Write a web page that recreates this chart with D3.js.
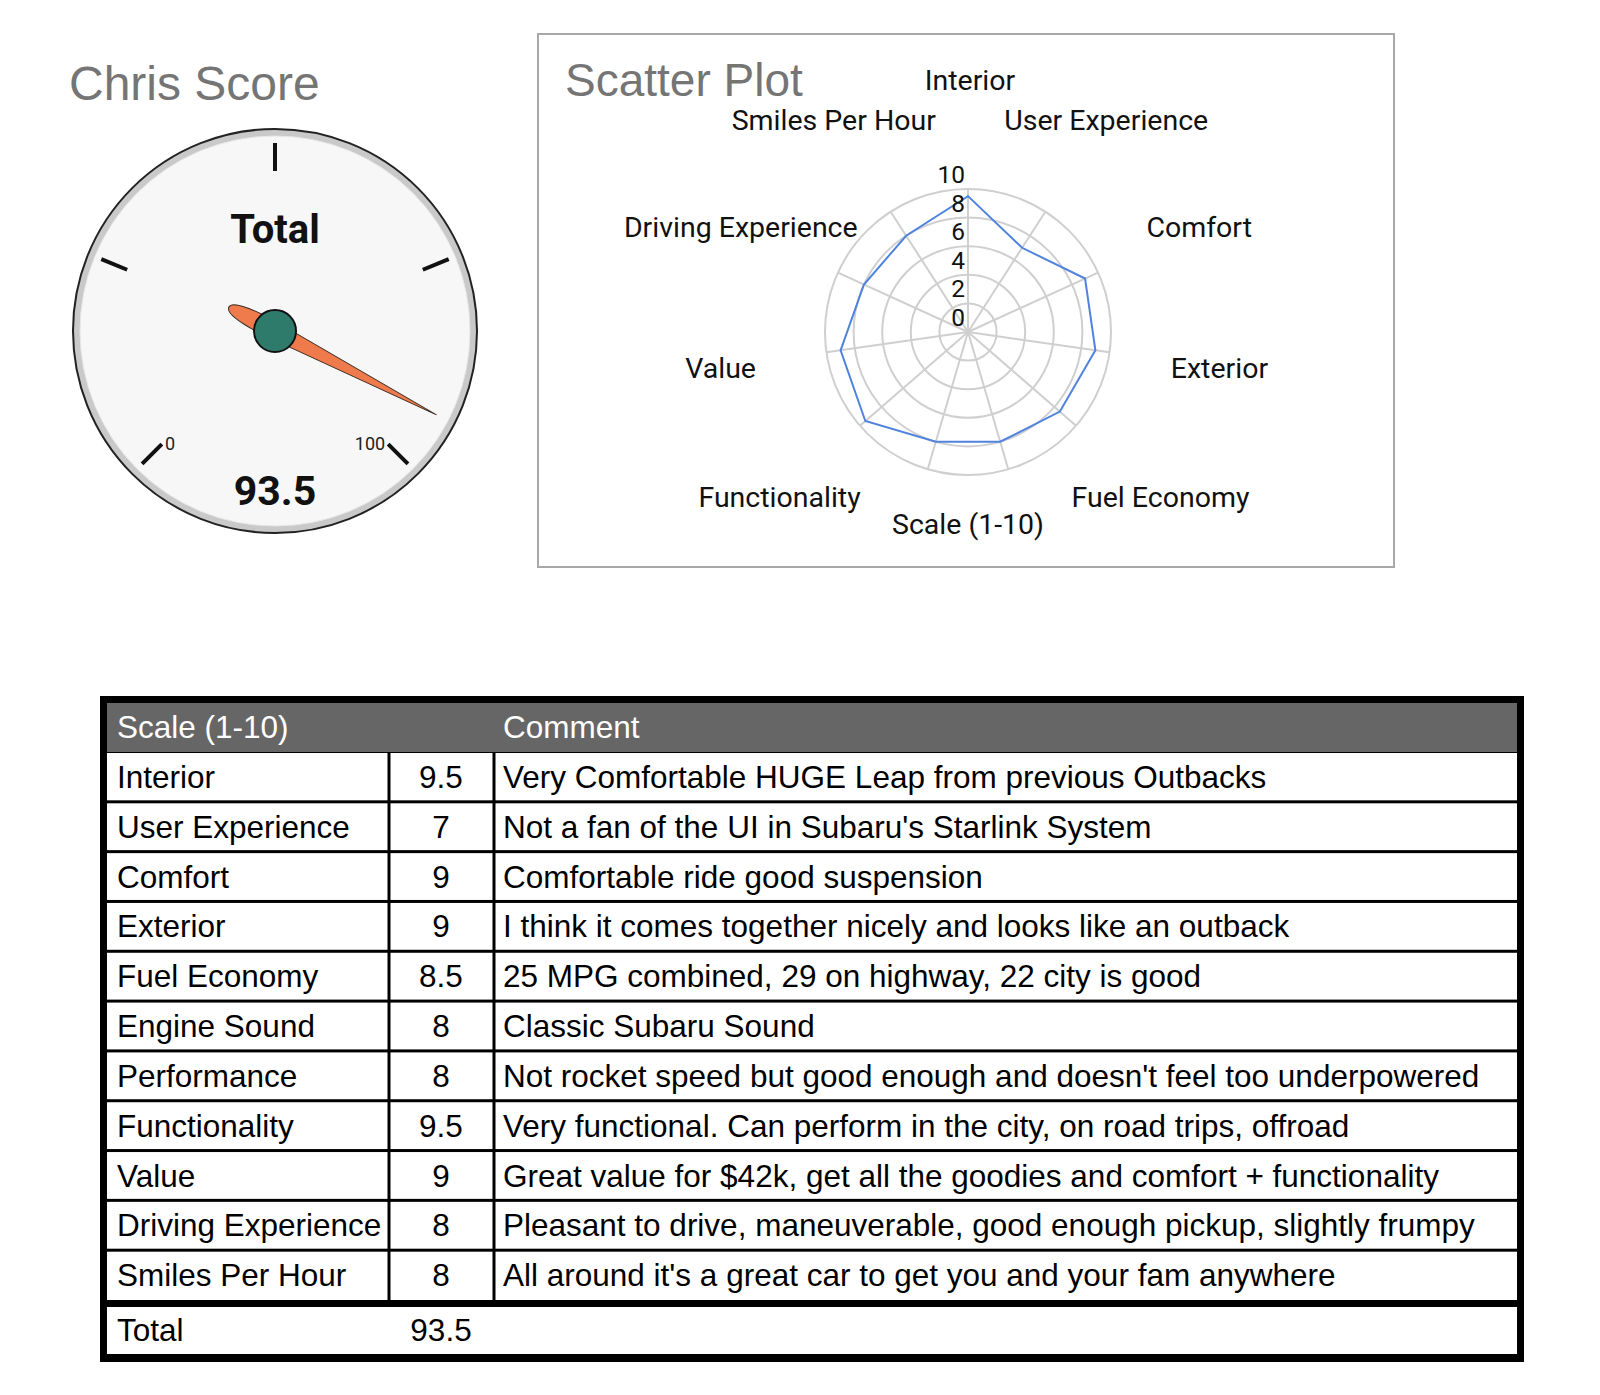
<!DOCTYPE html>
<html>
<head>
<meta charset="utf-8">
<script src="https://cdn.jsdelivr.net/npm/d3@7"></script>
<style>
  body { margin: 0; background: #fff; }
  svg { display: block; }
</style>
</head>
<body>
<div id="chart"></div>
<script>
// data for the review
const categories = ["Interior", "User Experience", "Comfort", "Exterior", "Fuel Economy",
    "Engine Sound", "Performance", "Functionality", "Value", "Driving Experience", "Smiles Per Hour"];
const scores = [9.5, 7, 9, 9, 8.5, 8, 8, 9.5, 9, 8, 8];
const comments = [
    "Very Comfortable HUGE Leap from previous Outbacks",
    "Not a fan of the UI in Subaru's Starlink System",
    "Comfortable ride good suspension",
    "I think it comes together nicely and looks like an outback",
    "25 MPG combined, 29 on highway, 22 city is good",
    "Classic Subaru Sound",
    "Not rocket speed but good enough and doesn't feel too underpowered",
    "Very functional. Can perform in the city, on road trips, offroad",
    "Great value for $42k, get all the goodies and comfort + functionality",
    "Pleasant to drive, maneuverable, good enough pickup, slightly frumpy",
    "All around it's a great car to get you and your fam anywhere"
];
const totalScore = 93.5;
const gaugeTicks = [0, 25, 50, 75, 100];
const gaugeTickLabels = [0, 100];
const radarTicks = [0, 2, 4, 6, 8, 10];
const radarRings = [2, 4, 6, 8, 10];

const W = 1600, H = 1395;
const svg = d3.select("#chart").append("svg")
    .attr("width", W).attr("height", H)
    .style("font-family", "Roboto, sans-serif");
svg.append("rect").attr("width", W).attr("height", H).attr("fill", "#fff");

// ---------- GAUGE ----------
svg.append("text").attr("x", 69).attr("y", 100)
    .style("font-family", "'Liberation Sans', Arial, sans-serif")
    .attr("font-size", 48).attr("fill", "#757575").text("Chris Score");

const gx = 275, gy = 331, gR = 202;
const gauge = svg.append("g").attr("transform", `translate(${gx},${gy})`);
gauge.append("circle").attr("r", gR).attr("fill", "#c9c9c9").attr("stroke", "#222").attr("stroke-width", 2);
gauge.append("circle").attr("r", gR - 7).attr("fill", "#f7f7f7").attr("stroke", "#e6e6e6").attr("stroke-width", 1);

// uhel ve stupnich, 0 = nahoru, po smeru hodin
const angle = d3.scaleLinear().domain([0, 100]).range([-135, 135]);
const rad = d => (angle(d) - 90) * Math.PI / 180;

gauge.selectAll("line.tick").data(gaugeTicks).enter().append("line")
    .attr("class", "tick")
    .attr("x1", d => 160 * Math.cos(rad(d))).attr("y1", d => 160 * Math.sin(rad(d)))
    .attr("x2", d => 188 * Math.cos(rad(d))).attr("y2", d => 188 * Math.sin(rad(d)))
    .attr("stroke", "#111").attr("stroke-width", 4);

gauge.selectAll("text.tl").data(gaugeTickLabels).enter().append("text")
    .attr("class", "tl")
    .attr("x", d => 160 * Math.cos(rad(d)) + (d === 0 ? 3 : -3))
    .attr("y", d => 160 * Math.sin(rad(d)) + 6)
    .attr("text-anchor", d => d === 0 ? "start" : "end")
    .attr("font-size", 18).attr("fill", "#222").text(d => d);

gauge.append("text").attr("y", 243 - gy).attr("text-anchor", "middle")
    .attr("font-size", 40).attr("font-weight", "bold").attr("fill", "#111").text("Total");
gauge.append("text").attr("y", 505 - gy).attr("text-anchor", "middle")
    .attr("font-size", 41).attr("font-weight", "bold").attr("fill", "#111").text(totalScore);

// rucicka
const needle = gauge.append("g").attr("transform", `rotate(${angle(totalScore) - 90})`);
needle.append("path")
    .attr("d", "M -52,0 C -52,-6 -36,-9 -10,-9 L 182,0 L -10,9 C -36,9 -52,6 -52,0 Z")
    .attr("fill", "#ef7b4d").attr("stroke", "#3a2a20").attr("stroke-width", 1);
gauge.append("circle").attr("r", 21).attr("fill", "#2f7b6b").attr("stroke", "#111").attr("stroke-width", 2);

// ---------- RADAR ----------
const box = { x: 538, y: 34, w: 856, h: 533 };
svg.append("rect").attr("x", box.x).attr("y", box.y).attr("width", box.w).attr("height", box.h)
    .attr("fill", "#fff").attr("stroke", "#a8a8a8").attr("stroke-width", 2);
svg.append("text").attr("x", 565).attr("y", 96)
    .style("font-family", "'Liberation Sans', Arial, sans-serif")
    .attr("font-size", 46).attr("fill", "#757575").text("Scatter Plot");

const cx = 968, cy = 332, rMax = 143;
const r = d3.scaleLinear().domain([0, 10]).range([0, rMax]);
const a = d3.scaleLinear().domain([0, categories.length]).range([0, 2 * Math.PI]);
const radar = svg.append("g").attr("transform", `translate(${cx},${cy})`);

radar.selectAll("circle.ring").data(radarRings).enter().append("circle")
    .attr("class", "ring").attr("r", d => r(d))
    .attr("fill", "none").attr("stroke", "#cfcfcf").attr("stroke-width", 2);
radar.selectAll("line.spoke").data(categories).enter().append("line")
    .attr("class", "spoke")
    .attr("x2", (d, i) => r(10) * Math.sin(a(i))).attr("y2", (d, i) => -r(10) * Math.cos(a(i)))
    .attr("stroke", "#cfcfcf").attr("stroke-width", 2);

const line = d3.lineRadial()
    .angle((d, i) => a(i)).radius(d => r(d))
    .curve(d3.curveLinearClosed);
radar.append("path").datum(scores).attr("d", line)
    .attr("fill", "none").attr("stroke", "#5083de").attr("stroke-width", 2);

// cisla na ose - trochu mensi, aby se neprekryvala
radar.selectAll("text.rt").data(radarTicks).enter().append("text")
    .attr("class", "rt").attr("x", -3).attr("y", d => -r(d) - 6)
    .attr("text-anchor", "end").attr("font-size", 24.5).attr("fill", "#111").text(d => d);

// popisky os, ty co se nevejdou do ramecku se skryji
const labelR = 252;
radar.selectAll("text.cat").data(categories).enter().append("text")
    .attr("class", "cat")
    .attr("x", (d, i) => labelR * Math.sin(a(i)) + 2)
    .attr("y", (d, i) => -labelR * Math.cos(a(i)) + 10)
    .attr("text-anchor", "middle").attr("font-size", 28.5).attr("fill", "#111")
    .style("display", (d, i) => (cy - labelR * Math.cos(a(i)) + 14 > box.y + box.h) ? "none" : null)
    .text(d => d);

svg.append("text").attr("x", 968).attr("y", 534).attr("text-anchor", "middle")
    .attr("font-size", 28.5).attr("fill", "#111").text("Scale (1-10)");

// ---------- TABLE ----------
const t = { x0: 100, x1: 1524, top: 696, headBottom: 752, rowsBottom: 1300, bottom: 1362 };
const colX = [389, 494];
const y = d3.scaleBand().domain(categories).range([t.headBottom, t.rowsBottom]);
const tbl = svg.append("g").style("font-family", "'Liberation Sans', Arial, sans-serif");
const fs = 31.5;

tbl.append("rect").attr("x", t.x0).attr("y", t.top).attr("width", t.x1 - t.x0).attr("height", t.bottom - t.top).attr("fill", "#000");
tbl.append("rect").attr("x", t.x0 + 7).attr("y", t.top + 7).attr("width", t.x1 - t.x0 - 14).attr("height", t.headBottom - t.top - 7).attr("fill", "#666");
tbl.selectAll("rect.row").data(categories).enter().append("rect")
    .attr("class", "row")
    .attr("x", t.x0 + 7).attr("width", t.x1 - t.x0 - 14)
    .attr("y", (d, i) => y(d) + (i === 0 ? 1 : 1.5))
    .attr("height", (d, i) => y.bandwidth() - (i === 0 ? 1 : 1.5) - (i === categories.length - 1 ? 0 : 1.5))
    .attr("fill", "#fff");
tbl.append("rect").attr("x", t.x0 + 7).attr("y", t.rowsBottom + 7).attr("width", t.x1 - t.x0 - 14).attr("height", t.bottom - t.rowsBottom - 15).attr("fill", "#fff");
tbl.selectAll("line.col").data(colX).enter().append("line")
    .attr("class", "col").attr("x1", d => d).attr("x2", d => d)
    .attr("y1", t.headBottom).attr("y2", t.rowsBottom)
    .attr("stroke", "#000").attr("stroke-width", 3);

tbl.append("text").attr("x", 117).attr("y", 738).attr("font-size", fs).attr("fill", "#fff").text("Scale (1-10)");
tbl.append("text").attr("x", 503).attr("y", 738).attr("font-size", fs).attr("fill", "#fff").text("Comment");

const rows = tbl.selectAll("g.r").data(categories).enter().append("g").attr("class", "r")
    .attr("transform", d => `translate(0,${y(d) + 36})`);
rows.append("text").attr("x", 117).attr("font-size", fs).text(d => d);
rows.append("text").attr("x", 441).attr("text-anchor", "middle").attr("font-size", fs).text((d, i) => scores[i]);
rows.append("text").attr("x", 503).attr("font-size", fs).text((d, i) => comments[i]);

tbl.append("text").attr("x", 117).attr("y", 1341).attr("font-size", fs).text("Total");
tbl.append("text").attr("x", 441).attr("y", 1341).attr("text-anchor", "middle").attr("font-size", fs).text(totalScore);
</script>
</body>
</html>
